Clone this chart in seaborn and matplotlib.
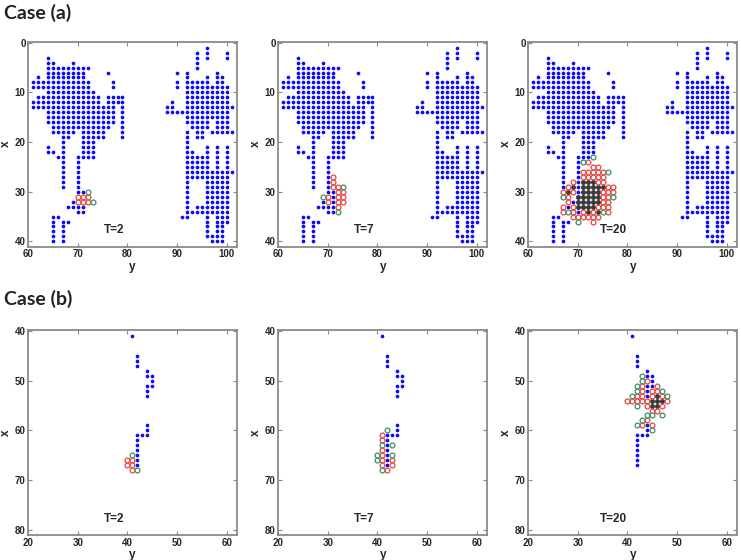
import numpy as np
import pandas as pd
import seaborn as sns
import matplotlib.pyplot as plt

sns.set_theme(style='white')
plt.rcParams['font.family'] = ['Liberation Sans Narrow', 'Liberation Sans', 'DejaVu Sans']

# ---- data ----
# blue lattice as column runs: (y, first x, last x)
a_blue_runs = [
    (61, 8, 9), (61, 12, 13),
    (62, 7, 9), (62, 11, 13),
    (63, 8, 9), (63, 11, 13),
    (64, 3, 16), (64, 21, 22),
    (65, 4, 18), (65, 22, 22), (65, 35, 40),
    (66, 5, 18), (66, 23, 23), (66, 35, 35),
    (67, 5, 29), (67, 36, 40),
    (68, 5, 19), (68, 33, 33), (68, 36, 36),
    (69, 4, 18), (69, 32, 33),
    (70, 5, 17), (70, 23, 34),
    (71, 5, 23), (71, 30, 34),
    (72, 5, 5), (72, 8, 23),
    (73, 10, 23),
    (74, 11, 19),
    (75, 13, 19),
    (76, 6, 6), (76, 11, 17),
    (77, 8, 9), (77, 11, 16),
    (78, 11, 12),
    (79, 11, 19),
    (88, 13, 14),
    (89, 12, 14),
    (90, 6, 6), (90, 8, 9), (90, 14, 14),
    (91, 14, 14), (91, 35, 35),
    (92, 6, 16), (92, 18, 35),
    (93, 8, 17), (93, 22, 27), (93, 34, 34),
    (94, 2, 5), (94, 8, 19), (94, 23, 27), (94, 33, 34),
    (95, 8, 19), (95, 23, 27), (95, 33, 34),
    (96, 1, 3), (96, 7, 17), (96, 21, 39),
    (97, 9, 15), (97, 18, 18), (97, 26, 34), (97, 39, 40),
    (98, 6, 18), (98, 21, 40),
    (99, 7, 18), (99, 26, 40),
    (100, 2, 3), (100, 9, 18), (100, 21, 36),
    (101, 13, 13), (101, 18, 18), (101, 26, 26),
]
b_blue_runs = [
    (41, 41, 41), (42, 45, 47), (44, 48, 49), (44, 51, 53), (45, 49, 51),
    (44, 59, 61), (43, 61, 61), (42, 61, 67),
]

# (y, x) of the other states
a2_red = [(70, 31), (71, 31), (72, 31), (70, 32), (71, 32), (72, 32)]
a2_green = [(72, 30), (73, 32)]

a7_red = [(71, 27), (71, 28), (71, 29), (70, 31), (70, 32),
          (72, 29), (72, 30), (72, 31), (72, 32), (72, 33),
          (73, 30), (73, 31), (73, 32)]
a7_green = [(73, 29), (69, 31), (72, 34)]

a20_black = [(71, 28), (72, 28), (73, 28),
             (69, 29), (71, 29), (72, 29), (73, 29), (74, 29), (75, 29),
             (68, 30), (71, 30), (72, 30), (73, 30), (74, 30),
             (70, 31), (71, 31), (72, 31), (73, 31), (74, 31),
             (70, 32), (71, 32), (72, 32), (73, 32), (74, 32),
             (70, 33), (71, 33), (72, 33), (73, 33),
             (72, 34), (74, 34)]
a20_red = [(72, 24), (73, 25), (74, 25),
           (71, 26), (72, 26), (73, 26), (74, 26), (75, 26),
           (71, 27), (72, 27), (73, 27), (74, 27), (75, 27),
           (69, 28), (74, 28), (75, 28),
           (68, 29), (76, 29), (77, 29),
           (67, 30), (69, 30), (75, 30), (76, 30), (77, 30),
           (68, 31), (75, 31), (76, 31),
           (68, 32), (75, 32), (76, 32),
           (67, 33), (69, 33), (74, 33), (75, 33), (76, 33),
           (67, 34), (69, 34), (71, 34), (73, 34), (76, 34),
           (69, 35), (70, 35), (71, 35), (72, 35), (73, 35), (74, 35),
           (73, 36)]
a20_green = [(73, 23), (71, 24), (76, 26), (67, 31), (77, 31),
             (68, 34), (75, 34), (70, 36)]

b2_red = [(40, 66), (41, 66), (40, 67), (41, 67), (41, 68)]
b2_green = [(41, 65), (42, 68)]

b7_red = [(41, 61), (41, 62), (41, 64), (41, 65), (41, 66), (41, 67),
          (42, 68), (43, 66), (43, 67)]
b7_green = [(41, 63), (41, 68), (40, 65), (40, 66), (42, 60), (43, 63), (43, 65)]

b20_black = [(46, 53), (45, 54), (46, 54), (47, 54), (45, 55), (46, 55)]
b20_red = [(44, 50), (43, 51), (46, 51), (43, 52), (45, 52), (46, 52),
           (42, 53), (43, 53), (45, 53), (47, 53),
           (40, 54), (41, 54), (42, 54), (43, 54), (44, 54), (48, 54),
           (44, 55), (47, 55), (45, 56), (46, 56),
           (44, 58), (43, 59), (45, 59)]
b20_green = [(43, 49), (43, 50), (42, 51), (42, 52), (47, 52),
             (41, 53), (48, 53), (42, 55),
             (44, 57), (45, 57), (47, 57), (43, 58), (42, 59), (45, 60)]

labels = ['T=2', 'T=7', 'T=20']


def expand(runs):
    pts = [(y, x) for y, x0, x1 in runs for x in range(x0, x1 + 1)]
    return pd.DataFrame(pts, columns=['y', 'x'])


def frame(pts):
    return pd.DataFrame(pts, columns=['y', 'x'])


BLUE = '#0a0aff'
RED = '#e8453f'
GREEN = '#3a8f63'
BLACK = '#3a3a3a'
GRAY = '#8a8a8a'


def draw(ax, blue, red, green, black, xlim, ylim, xt, yt, label):
    sns.scatterplot(data=blue, x='y', y='x', ax=ax, color=BLUE, s=7,
                    linewidth=0, legend=False)
    if black:
        sns.scatterplot(data=frame(black), x='y', y='x', ax=ax, color=BLACK,
                        s=13, linewidth=0, legend=False)
    for pts, c in [(red, RED), (green, GREEN)]:
        sns.scatterplot(data=frame(pts), x='y', y='x', ax=ax, color=c,
                        facecolor='white', edgecolor=c, s=12, linewidth=0.9,
                        legend=False, zorder=3)
    ax.set_xlim(*xlim)
    ax.set_ylim(*ylim)
    ax.set_xticks(xt, labels=[str(v) for v in xt], fontweight='bold', fontsize=7)
    ax.set_yticks(yt, labels=[str(v) for v in yt], fontweight='bold', fontsize=7)
    ax.tick_params(direction='in', top=True, right=True, length=3,
                   width=0.8, color=GRAY, pad=2, bottom=True, left=True)
    for sp in ax.spines.values():
        sp.set_color(GRAY)
        sp.set_linewidth(1.3)
    ax.set_xlabel('y', fontsize=8.5, fontweight='bold', labelpad=1)
    ax.set_ylabel('x', fontsize=8.5, fontweight='bold', labelpad=2)
    ax.text(0.41, 0.08, label, transform=ax.transAxes, ha='center',
            va='center', fontsize=8.5, fontweight='bold')


fig = plt.figure(figsize=(7.41, 5.6), dpi=100)
lefts = [0.0382, 0.3756, 0.713]
w, h = 0.2816, 0.366

a_blue = expand(a_blue_runs)
b_blue = expand(b_blue_runs)
a_sets = [(a2_red, a2_green, []), (a7_red, a7_green, []), (a20_red, a20_green, a20_black)]
b_sets = [(b2_red, b2_green, []), (b7_red, b7_green, []), (b20_red, b20_green, b20_black)]

for i in range(3):
    ax = fig.add_axes([lefts[i], 0.5595, w, h])
    r, g, k = a_sets[i]
    draw(ax, a_blue, r, g, k, (60.3, 102.1), (41.07, -0.2),
         [60, 70, 80, 90, 100], [0, 10, 20, 30, 40], labels[i])
    ax = fig.add_axes([lefts[i], 0.0446, w, h])
    r, g, k = b_sets[i]
    draw(ax, b_blue, r, g, k, (20.3, 62.1), (81.07, 39.8),
         [20, 30, 40, 50, 60], [40, 50, 60, 70, 80], labels[i])

fig.text(0.005, 0.993, 'Case (a)', fontsize=14, fontweight='bold', va='top',
         family=['Lato', 'DejaVu Sans'], color='#222222')
fig.text(0.005, 0.483, 'Case (b)', fontsize=14, fontweight='bold', va='top',
         family=['Lato', 'DejaVu Sans'], color='#222222')

fig.savefig('out.png', dpi=100, facecolor='white')
